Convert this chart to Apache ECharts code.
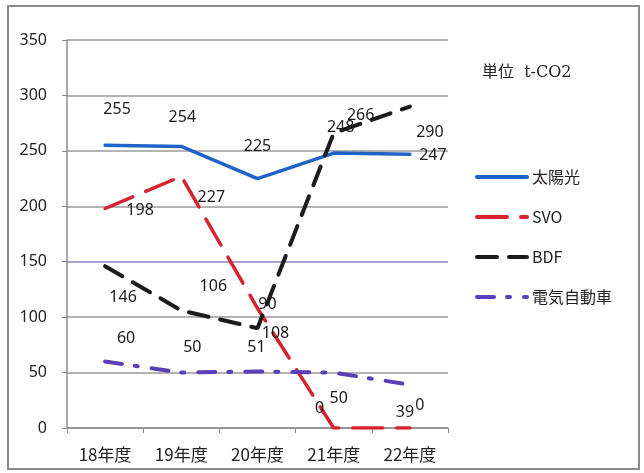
<!DOCTYPE html>
<html>
<head>
<meta charset="utf-8">
<script src="https://cdn.jsdelivr.net/npm/echarts@6/dist/echarts.min.js"></script>
<style>
  html, body { margin: 0; padding: 0; background: #ffffff; }
  #chart { width: 644px; height: 473px; }
</style>
</head>
<body>
<div id="chart"></div>
<script>
// 年度別 CO2 削減量 (t-CO2)
const years = ['18年度', '19年度', '20年度', '21年度', '22年度'];
const solar = [255, 254, 225, 248, 247];       // 太陽光
const svo = [198, 227, 108, 0, 0];             // SVO
const bdf = [146, 106, 90, 266, 290];          // BDF
const ev = [60, 50, 51, 50, 39];               // 電気自動車
const yTicks = { min: 0, max: 350, interval: 50 };

// 値ラベルの置き場所（点からのずらし量, px）
const labelShift = {
  solar: [[12, -36], [1, -29], [0, -32], [7, -26], [23, 1]],
  svo:   [[35, 2], [30, 21], [18, 25], [-14, -20], [10, -23]],
  bdf:   [[18, 31], [32, -24], [10, -24], [27, -18], [20, 26]],
  ev:    [[21, -23], [11, -25], [-1, -24], [5, 26], [-5, 28]]
};

const numFont = '"Noto Sans", "Liberation Sans", sans-serif';
const jpFont = '"Noto Sans CJK JP", "Noto Sans", sans-serif';

function withLabels(values, shifts) {
  return values.map((v, i) => ({
    value: v,
    label: { offset: shifts[i] }
  }));
}

function lineSeries(name, values, shifts, color, width, dash) {
  return {
    name: name,
    type: 'line',
    data: withLabels(values, shifts),
    symbol: 'circle',
    symbolSize: 1,
    showSymbol: true,
    itemStyle: { color: 'rgba(0,0,0,0)', borderWidth: 0 },
    lineStyle: { color: color, width: width, type: dash, cap: 'round' },
    label: {
      show: true,
      position: 'inside',
      color: '#1a1a1a',
      fontFamily: numFont,
      fontSize: 16
    },
    emphasis: { disabled: true },
    animation: false,
    z: 3
  };
}

const chart = echarts.init(document.getElementById('chart'), null, { renderer: 'canvas' });

chart.setOption({
  backgroundColor: '#ffffff',
  animation: false,
  grid: { left: 67, right: 196, top: 40, bottom: 45, containLabel: false },
  graphic: [
    {
      type: 'rect',
      shape: { x: 8, y: 6, width: 631, height: 463 },
      style: { fill: 'none', stroke: '#8a8a8a', lineWidth: 2 },
      silent: true
    },
    {
      type: 'text',
      left: 482,
      top: 65,
      style: {
        text: '単位  t-CO2',
        fill: '#222',
        font: '16px "DejaVu Serif", "Noto Sans CJK JP", serif'
      },
      silent: true
    }
  ],
  legend: {
    orient: 'vertical',
    left: 475,
    top: 169,
    padding: 0,
    itemWidth: 50,
    itemHeight: 12,
    itemGap: 24,
    lineStyle: { width: 4 },
    textStyle: { fontFamily: jpFont, fontSize: 16, color: '#222' },
    data: ['太陽光', 'SVO', 'BDF', '電気自動車']
  },
  xAxis: {
    type: 'category',
    data: years,
    boundaryGap: true,
    axisLine: { lineStyle: { color: '#8c8c8c', width: 1.5 } },
    axisTick: { show: true, length: 5, alignWithLabel: false, lineStyle: { color: '#8c8c8c' } },
    axisLabel: { fontFamily: jpFont, fontSize: 17, color: '#222', margin: 18 }
  },
  yAxis: {
    type: 'value',
    min: yTicks.min,
    max: yTicks.max,
    interval: yTicks.interval,
    axisLine: { show: true, lineStyle: { color: '#8c8c8c', width: 1.5 } },
    axisTick: { show: true, length: 5, lineStyle: { color: '#8c8c8c' } },
    axisLabel: { fontFamily: numFont, fontSize: 16, color: '#222', margin: 20 },
    splitLine: {
      show: true,
      lineStyle: {
        color: ['#9a9a9a', '#9a9a9a', '#9a9a9a', '#8884c2', '#9a9a9a', '#9a9a9a', '#9a9a9a', '#9a9a9a'],
        width: 1.5
      }
    }
  },
  series: [
    lineSeries('太陽光', solar, labelShift.solar, '#1f63c9', 3.5, 'solid'),
    lineSeries('SVO', svo, labelShift.svo, '#d6232f', 3.5, [30, 14]),
    lineSeries('BDF', bdf, labelShift.bdf, '#1c1c1c', 4, [20, 12]),
    lineSeries('電気自動車', ev, labelShift.ev, '#5b3fb8', 4, [17, 13, 3, 14])
  ]
});
</script>
</body>
</html>
